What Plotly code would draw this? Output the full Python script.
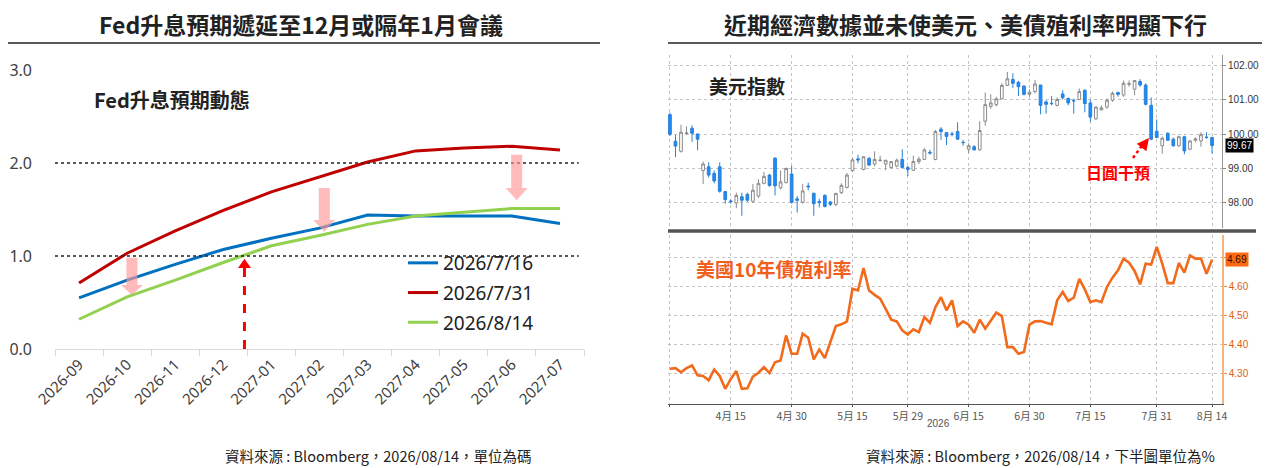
import pandas as pd
import plotly.graph_objects as go

W, H = 1275, 468
OFFSET = 8  # default page margin around the plot div
CJK = "Noto Sans CJK TC, Noto Sans, sans-serif"
NUM = "Noto Sans, Noto Sans CJK TC, sans-serif"

# ---- left chart: Fed hike expectations ----
MONTHS = ["2026-09", "2026-10", "2026-11", "2026-12", "2027-01", "2027-02",
          "2027-03", "2027-04", "2027-05", "2027-06", "2027-07"]
FED_0716 = [0.55, 0.74, 0.91, 1.07, 1.19, 1.30, 1.44, 1.43, 1.43, 1.43, 1.35]
FED_0731 = [0.71, 1.03, 1.27, 1.49, 1.69, 1.85, 2.01, 2.13, 2.16, 2.18, 2.14]
FED_0814 = [0.32, 0.56, 0.74, 0.93, 1.11, 1.22, 1.34, 1.43, 1.47, 1.51, 1.51]
SERIES = [("2026/7/16", FED_0716, "#0070C0"),
          ("2026/7/31", FED_0731, "#C00000"),
          ("2026/8/14", FED_0814, "#92D050")]
REF_LEVELS = [1.0, 2.0]

# ---- right chart: DXY candles and US 10y yield ----
DAYS = pd.bdate_range("2026-03-31", "2026-08-14").strftime("%Y-%m-%d").tolist()
DXY_OPEN = [100.56, 99.79, 99.50, 100.01, 100.17, 100.00, 98.94, 99.05, 98.86, 99.05,
            98.33, 98.06, 98.00, 98.18, 98.25, 98.05, 98.20, 98.57, 98.81, 99.30,
            98.44, 98.59, 98.84, 98.12, 98.02, 98.49, 98.28, 98.04, 98.22, 98.03,
            97.96, 98.30, 98.45, 98.94, 99.28, 98.97, 99.29, 99.13, 99.23, 99.13,
            99.03, 99.07, 99.26, 99.03, 98.95, 99.20, 99.26, 99.47, 99.26, 100.14,
            100.04, 100.00, 100.07, 99.76, 99.56, 99.63, 99.54, 100.37, 100.80, 100.85,
            101.02, 101.41, 101.58, 101.50, 101.39, 101.15, 101.23, 101.42, 100.93, 100.89,
            100.83, 101.16, 101.03, 100.97, 101.00, 101.27, 100.90, 100.44, 100.70, 100.78,
            100.98, 101.20, 101.13, 101.44, 101.30, 101.52, 101.42, 100.83, 100.08, 99.66,
            100.02, 99.85, 99.66, 99.92, 99.56, 99.82, 99.80, 99.91, 99.90]
DXY_HIGH = [100.62, 99.97, 100.27, 100.22, 100.25, 100.02, 99.20, 99.18, 98.94, 99.18,
            98.35, 98.10, 98.30, 98.30, 98.30, 98.55, 98.69, 98.90, 98.84, 99.33,
            98.94, 99.03, 99.07, 98.20, 98.55, 98.59, 98.30, 98.12, 98.25, 98.06,
            98.28, 98.57, 98.87, 99.30, 99.40, 99.35, 99.34, 99.50, 99.37, 99.24,
            99.20, 99.29, 99.56, 99.07, 99.37, 99.34, 99.59, 99.54, 100.12, 100.20,
            100.05, 100.07, 100.34, 99.83, 99.73, 99.68, 100.37, 101.20, 101.15, 101.08,
            101.47, 101.80, 101.76, 101.54, 101.41, 101.29, 101.57, 101.42, 100.98, 101.10,
            101.06, 101.27, 101.06, 101.03, 101.32, 101.29, 101.00, 100.80, 100.83, 101.03,
            101.23, 101.23, 101.55, 101.55, 101.55, 101.59, 101.47, 101.06, 100.42, 99.93,
            100.05, 99.90, 99.95, 99.95, 99.82, 99.90, 100.05, 100.05, 99.92]
DXY_LOW = [99.95, 99.33, 99.46, 99.97, 99.77, 99.53, 98.55, 98.74, 98.57, 98.30,
           97.98, 97.98, 97.85, 97.63, 98.03, 98.00, 98.15, 98.54, 98.47, 98.22,
           98.39, 98.57, 97.98, 97.72, 97.98, 98.37, 97.63, 97.87, 97.87, 97.91,
           97.91, 98.26, 98.42, 98.90, 99.15, 98.95, 99.07, 99.07, 99.20, 98.95,
           99.00, 99.03, 99.00, 98.78, 98.93, 99.13, 99.25, 99.40, 99.24, 99.83,
           99.68, 99.93, 99.83, 99.66, 99.44, 99.52, 99.52, 100.24, 100.73, 100.80,
           101.00, 101.39, 101.34, 101.10, 101.12, 101.08, 101.18, 100.57, 100.59, 100.83,
           100.80, 101.00, 100.83, 100.59, 100.98, 100.63, 100.35, 100.41, 100.68, 100.73,
           100.93, 101.08, 101.08, 101.37, 101.13, 101.37, 100.83, 99.82, 99.88, 99.43,
           99.80, 99.63, 99.63, 99.41, 99.53, 99.77, 99.63, 99.86, 99.43]
DXY_CLOSE = [99.99, 99.65, 100.05, 100.03, 100.02, 99.85, 99.13, 98.81, 98.64, 98.34,
             98.10, 98.04, 98.22, 98.08, 98.08, 98.37, 98.57, 98.77, 98.51, 98.50,
             98.61, 99.00, 98.02, 98.08, 98.35, 98.47, 97.98, 98.01, 97.90, 97.96,
             98.28, 98.51, 98.81, 99.25, 99.25, 99.34, 99.10, 99.26, 99.24, 99.24,
             99.20, 99.24, 99.03, 98.97, 99.20, 99.27, 99.54, 99.45, 100.07, 100.07,
             99.93, 99.99, 99.85, 99.75, 99.66, 99.54, 100.10, 100.85, 100.90, 101.02,
             101.41, 101.60, 101.47, 101.37, 101.15, 101.21, 101.45, 100.83, 100.86, 100.88,
             101.00, 101.05, 100.90, 100.96, 101.23, 100.88, 100.49, 100.78, 100.76, 100.98,
             101.18, 101.15, 101.47, 101.46, 101.55, 101.42, 100.86, 99.85, 99.90, 99.88,
             99.82, 99.66, 99.92, 99.51, 99.80, 99.86, 99.98, 99.90, 99.67]
UST10Y = [4.318, 4.320, 4.306, 4.320, 4.329, 4.295, 4.293, 4.278, 4.315, 4.293,
          4.249, 4.283, 4.310, 4.249, 4.251, 4.291, 4.304, 4.323, 4.303, 4.340,
          4.346, 4.432, 4.369, 4.369, 4.438, 4.424, 4.350, 4.384, 4.354, 4.409,
          4.464, 4.470, 4.480, 4.592, 4.586, 4.663, 4.586, 4.571, 4.558, 4.523,
          4.486, 4.480, 4.449, 4.435, 4.453, 4.443, 4.495, 4.475, 4.529, 4.563,
          4.518, 4.552, 4.464, 4.480, 4.469, 4.441, 4.486, 4.455, 4.483, 4.510,
          4.498, 4.392, 4.392, 4.369, 4.375, 4.469, 4.480, 4.481, 4.475, 4.470,
          4.552, 4.581, 4.550, 4.561, 4.626, 4.590, 4.546, 4.552, 4.546, 4.598,
          4.630, 4.655, 4.695, 4.681, 4.653, 4.607, 4.678, 4.675, 4.735, 4.678,
          4.611, 4.611, 4.680, 4.647, 4.706, 4.695, 4.695, 4.643, 4.691]
DATE_TICKS = ["2026-03-31", "2026-04-15", "2026-04-30", "2026-05-15", "2026-05-29",
              "2026-06-15", "2026-06-30", "2026-07-15", "2026-07-31", "2026-08-14"]
DATE_LABELS = ["", "4月 15", "4月 30", "5月 15", "5月 29", "6月 15", "6月 30",
               "7月 15", "7月 31", "8月 14"]
DXY_TICKS = [98, 99, 100, 101, 102]
UST_TICKS = [4.3, 4.4, 4.5, 4.6, 4.7]

# pink "expectation moved down" arrows: (category, top, tip)
DOWN_ARROWS = [("2026-10", 0.98, 0.58), ("2027-02", 1.73, 1.26), ("2027-06", 2.09, 1.60)]


def px(x):
    return (x - OFFSET) / W


def py(y):
    return 1 - (y - OFFSET) / H


fig = go.Figure()

for name, vals, color in SERIES:
    fig.add_trace(go.Scatter(x=MONTHS, y=vals, name=name, mode="lines",
                             line=dict(color=color, width=3),
                             legendgroup=name, xaxis="x", yaxis="y"))

fig.add_trace(go.Candlestick(
    x=DAYS, open=DXY_OPEN, high=DXY_HIGH, low=DXY_LOW, close=DXY_CLOSE,
    xaxis="x2", yaxis="y2", showlegend=False,
    increasing=dict(line=dict(color="#8a8a8a", width=1), fillcolor="white"),
    decreasing=dict(line=dict(color="#2a80d8", width=1), fillcolor="#1a8cff"),
))
fig.add_trace(go.Scatter(x=DAYS, y=UST10Y, mode="lines", showlegend=False,
                         line=dict(color="#f26a1b", width=2.6),
                         xaxis="x3", yaxis="y3"))

grid = dict(showgrid=True, gridcolor="#c4c4c4", griddash="dot", gridwidth=1,
            automargin=False)

fig.update_layout(
    width=W, height=H, autosize=False,
    margin=dict(l=0, r=0, t=0, b=0, autoexpand=False),
    paper_bgcolor="white", plot_bgcolor="white",
    font=dict(family=CJK, color="#222"),
    xaxis=dict(domain=[px(55), px(584)], type="category", range=[-0.5, 10.5],
               tickson="boundaries", ticks="outside", ticklen=6, tickcolor="#d9d9d9",
               showline=True, linecolor="#d9d9d9", linewidth=1, showgrid=False,
               tickangle=-45, tickfont=dict(family=NUM, size=15, color="#404040"),
               automargin=False),
    yaxis=dict(domain=[py(349), py(70)], range=[0, 3], tickvals=[0, 1, 2, 3],
               tickformat=".1f", showgrid=False, zeroline=False, showline=False,
               ticklabelstandoff=22, automargin=False,
               tickfont=dict(family=NUM, size=16, color="#404040")),
    xaxis2=dict(domain=[px(668), px(1222)], type="category", range=[-0.35, 99.8],
                anchor="y2", tickvals=DATE_TICKS, ticktext=DATE_LABELS,
                showticklabels=False, rangeslider=dict(visible=False),
                showline=False, zeroline=False, **grid),
    yaxis2=dict(domain=[py(228), py(55)], range=[97.275, 102.29], anchor="x2",
                side="right", tickvals=DXY_TICKS, tickformat=".2f",
                ticks="outside", ticklen=3, tickcolor="#888",
                showline=True, linecolor="#999", linewidth=1, zeroline=False,
                tickfont=dict(family="Liberation Sans", size=10, color="#333"),
                **grid),
    xaxis3=dict(domain=[px(668), px(1222)], type="category", range=[-0.35, 99.8],
                anchor="y3", tickvals=DATE_TICKS, ticktext=DATE_LABELS,
                ticks="outside", ticklen=2, tickcolor="#555",
                showline=True, linecolor="#555", linewidth=1, zeroline=False,
                tickfont=dict(family=CJK, size=10.5, color="#555"), **grid),
    yaxis3=dict(domain=[py(404), py(235)], range=[4.197, 4.776], anchor="x3",
                side="right", tickvals=UST_TICKS,
                ticktext=[f"{v:.2f}" for v in UST_TICKS[:-1]] + [""],
                ticks="outside", ticklen=3, tickcolor="#f08a40",
                showline=True, linecolor="#f6b47e", linewidth=1.5, zeroline=False,
                tickfont=dict(family="Liberation Sans", size=10, color="#e0600f"),
                **grid),
    legend=dict(x=px(403), y=py(244), xanchor="left", yanchor="top",
                bgcolor="rgba(0,0,0,0)", tracegroupgap=2,
                font=dict(family=NUM, size=19, color="#222")),
)

shapes = []
# title underlines and panel separator
shapes.append(dict(type="line", xref="paper", yref="paper", x0=px(4), x1=px(600),
                   y0=py(43), y1=py(43), line=dict(color="#222", width=1.5)))
shapes.append(dict(type="line", xref="paper", yref="paper", x0=px(668), x1=px(1262),
                   y0=py(43), y1=py(43), line=dict(color="#222", width=1.5)))
shapes.append(dict(type="line", xref="paper", yref="paper", x0=px(668), x1=px(1256),
                   y0=py(231), y1=py(231), line=dict(color="#555", width=3.5)))
# dotted reference levels
for lvl in REF_LEVELS:
    shapes.append(dict(type="line", xref="x domain", yref="y", x0=0, x1=0.99,
                       y0=lvl, y1=lvl, line=dict(color="#222", width=1.5, dash="dot")))

# pink arrows
n = len(MONTHS)
for cat, top, tip in DOWN_ARROWS:
    cx = (MONTHS.index(cat) + 0.6) / n
    sw, hw = 5.5 / 529, 11 / 529
    neck = tip + (top - tip) * 0.27
    path = (f"M{cx - sw},{top} L{cx + sw},{top} L{cx + sw},{neck} L{cx + hw},{neck} "
            f"L{cx},{tip} L{cx - hw},{neck} L{cx - sw},{neck} Z")
    shapes.append(dict(type="path", xref="x domain", yref="y", path=path,
                       fillcolor="rgba(255,150,150,0.65)", line=dict(width=0),
                       layer="above"))

# red dashed arrow: first hike priced near the Dec/Jan meeting
ax = (MONTHS.index("2026-12") + 0.5 + 0.44) / n
hw = 6.5 / 529
shapes.append(dict(type="line", xref="x domain", yref="y", x0=ax, x1=ax, y0=0, y1=0.87,
                   line=dict(color="#ff0000", width=3, dash="dash")))
shapes.append(dict(type="path", xref="x domain", yref="y",
                   path=f"M{ax - hw},0.87 L{ax + hw},0.87 L{ax},0.97 Z",
                   fillcolor="#ff0000", line=dict(width=0)))
# dotted red arrow to the yen-intervention candle
shapes.append(dict(type="line", xref="paper", yref="paper", x0=px(1133), y0=py(158),
                   x1=px(1143), y1=py(144), line=dict(color="#ff0000", width=2.5, dash="dot")))
fig.update_layout(shapes=shapes)

ann = [
    dict(text="Fed升息預期遞延至12月或隔年1月會議", x=px(301), y=py(24),
         font=dict(size=23, color="#222", weight="bold")),
    dict(text="近期經濟數據並未使美元、美債殖利率明顯下行", x=px(965), y=py(24),
         font=dict(size=23, color="#222", weight="bold")),
    dict(text="Fed升息預期動態", x=px(92), y=py(100), xanchor="left",
         font=dict(size=20, color="#222", weight="bold")),
    dict(text="資料來源 : Bloomberg，2026/08/14，單位為碼", x=px(379), y=py(455),
         font=dict(size=14.5, color="#222")),
    dict(text="資料來源 : Bloomberg，2026/08/14，下半圖單位為%", x=px(1040), y=py(455),
         font=dict(size=14.5, color="#222")),
    dict(text="美元指數", x=px(707), y=py(86), xanchor="left",
         font=dict(size=19, color="#222", weight="bold")),
    dict(text="美國10年債殖利率", x=px(694), y=py(268), xanchor="left",
         font=dict(size=19, color="#f0601c", weight="bold")),
    dict(text="日圓干預", x=px(1084), y=py(172), xanchor="left",
         font=dict(size=16, color="#ff0000", weight="bold")),
    dict(text="2026", x=px(938), y=py(423),
         font=dict(family="Liberation Sans", size=10, color="#555")),
]
for a in ann:
    fig.add_annotation(xref="paper", yref="paper", showarrow=False,
                       xanchor=a.pop("xanchor", "center"), yanchor="middle", **a)

fig.add_annotation(xref="paper", yref="paper", x=px(1149), y=py(138), ax=-7, ay=9,
                   text="", showarrow=True, arrowhead=2, arrowsize=1.1,
                   arrowwidth=2.2, arrowcolor="#ff0000")
fig.add_annotation(xref="paper", yref="y2", x=px(1225), y=DXY_CLOSE[-1],
                   text=f"{DXY_CLOSE[-1]:.2f}", showarrow=False, xanchor="left",
                   bgcolor="#000", borderpad=1,
                   font=dict(family="Liberation Sans", size=10, color="white"))
fig.add_annotation(xref="paper", yref="y3", x=px(1225), y=UST10Y[-1],
                   text=f"{UST10Y[-1]:.2f}", showarrow=False, xanchor="left",
                   bgcolor="#ff6a13", borderpad=1,
                   font=dict(family="Liberation Sans", size=10, color="#2a1200"))

fig.write_html("out.html")
